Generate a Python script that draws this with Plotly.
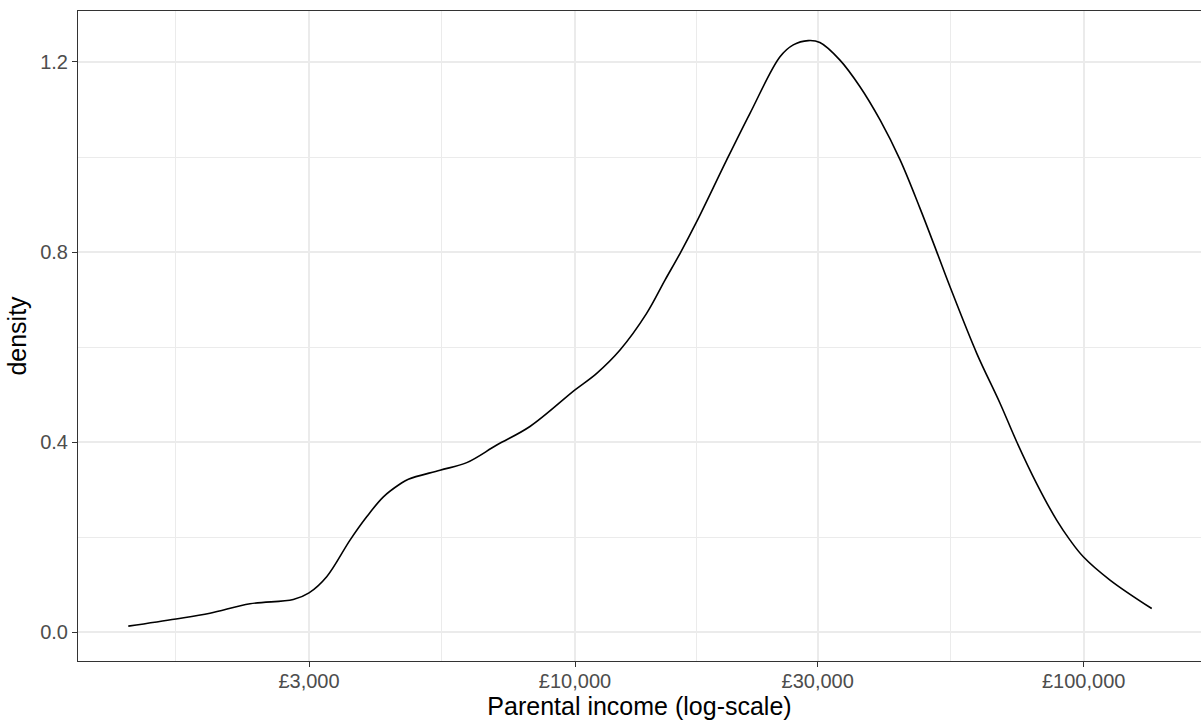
import plotly.graph_objects as go

# Density curve (income in £, density)
income = [1324, 1643, 1916, 2297, 2794, 3000, 3250, 3612, 3895, 4201, 4529, 4703,
          5427, 6126, 7018, 8155, 10000, 11033, 12260, 13829, 15028, 16084, 17347,
          19872, 22080, 25293, 26858, 28739, 30300, 33178, 36330, 39780, 43560,
          47670, 51404, 54600, 61620, 68470, 73840, 80820, 88480, 94000, 99820,
          112650, 136070]
density = [0.013, 0.028, 0.040, 0.060, 0.069, 0.083, 0.117, 0.194, 0.243, 0.285,
           0.312, 0.322, 0.341, 0.357, 0.394, 0.433, 0.510, 0.545, 0.594, 0.671,
           0.741, 0.797, 0.864, 0.994, 1.092, 1.211, 1.236, 1.245, 1.241, 1.204,
           1.148, 1.078, 0.994, 0.892, 0.801, 0.727, 0.587, 0.482, 0.401, 0.313,
           0.236, 0.194, 0.159, 0.110, 0.050]

x_tickvals = [3000, 10000, 30000, 100000]
x_ticktext = ["£3,000", "£10,000", "£30,000", "£100,000"]
x_minor = [1643, 5477, 17321, 54772]
y_tickvals = [0.0, 0.4, 0.8, 1.2]
y_ticktext = ["0.0", "0.4", "0.8", "1.2"]
y_minor = [0.2, 0.6, 1.0]

FONT = "Liberation Sans, Arial, Helvetica, sans-serif"

fig = go.Figure()
fig.add_trace(go.Scatter(
    x=income, y=density, mode="lines",
    line=dict(color="black", width=1.6, shape="spline", smoothing=1.0),
    showlegend=False, hoverinfo="skip"))

fig.update_layout(
    width=1201, height=722,
    margin=dict(l=78, r=0, t=11, b=61),
    paper_bgcolor="white", plot_bgcolor="white",
    font=dict(family=FONT, color="#4D4D4D", size=20),
)

fig.update_xaxes(
    type="log", range=[3.0230, 5.2306], automargin=False,
    tickmode="array", tickvals=x_tickvals, ticktext=x_ticktext,
    tickfont=dict(size=20, color="#4D4D4D", family=FONT),
    ticks="outside", ticklen=5, tickwidth=1, tickcolor="#333333",
    ticklabelstandoff=-3,
    showgrid=True, gridcolor="#EBEBEB", gridwidth=2,
    minor=dict(tickmode="array", tickvals=x_minor, showgrid=True,
               gridcolor="#EBEBEB", gridwidth=1, ticks=""),
    showline=True, linecolor="#333333", linewidth=1, mirror=True,
    zeroline=False,
    title=dict(text="Parental income (log-scale)",
               font=dict(size=25, color="black", family=FONT), standoff=2),
)

fig.update_yaxes(
    range=[-0.0604, 1.3073], automargin=False,
    tickmode="array", tickvals=y_tickvals, ticktext=y_ticktext,
    tickfont=dict(size=20, color="#4D4D4D", family=FONT),
    ticks="outside", ticklen=5, tickwidth=1, tickcolor="#333333",
    showgrid=True, gridcolor="#EBEBEB", gridwidth=2,
    minor=dict(tickmode="array", tickvals=y_minor, showgrid=True,
               gridcolor="#EBEBEB", gridwidth=1, ticks=""),
    showline=True, linecolor="#333333", linewidth=1, mirror=False,
    zeroline=False,
    title=dict(text="density", font=dict(size=25, color="black", family=FONT),
               standoff=6),
)

fig.write_html("out.html", config={"displayModeBar": False},
               post_script="document.body.style.margin='0';document.body.style.overflow='hidden';")
